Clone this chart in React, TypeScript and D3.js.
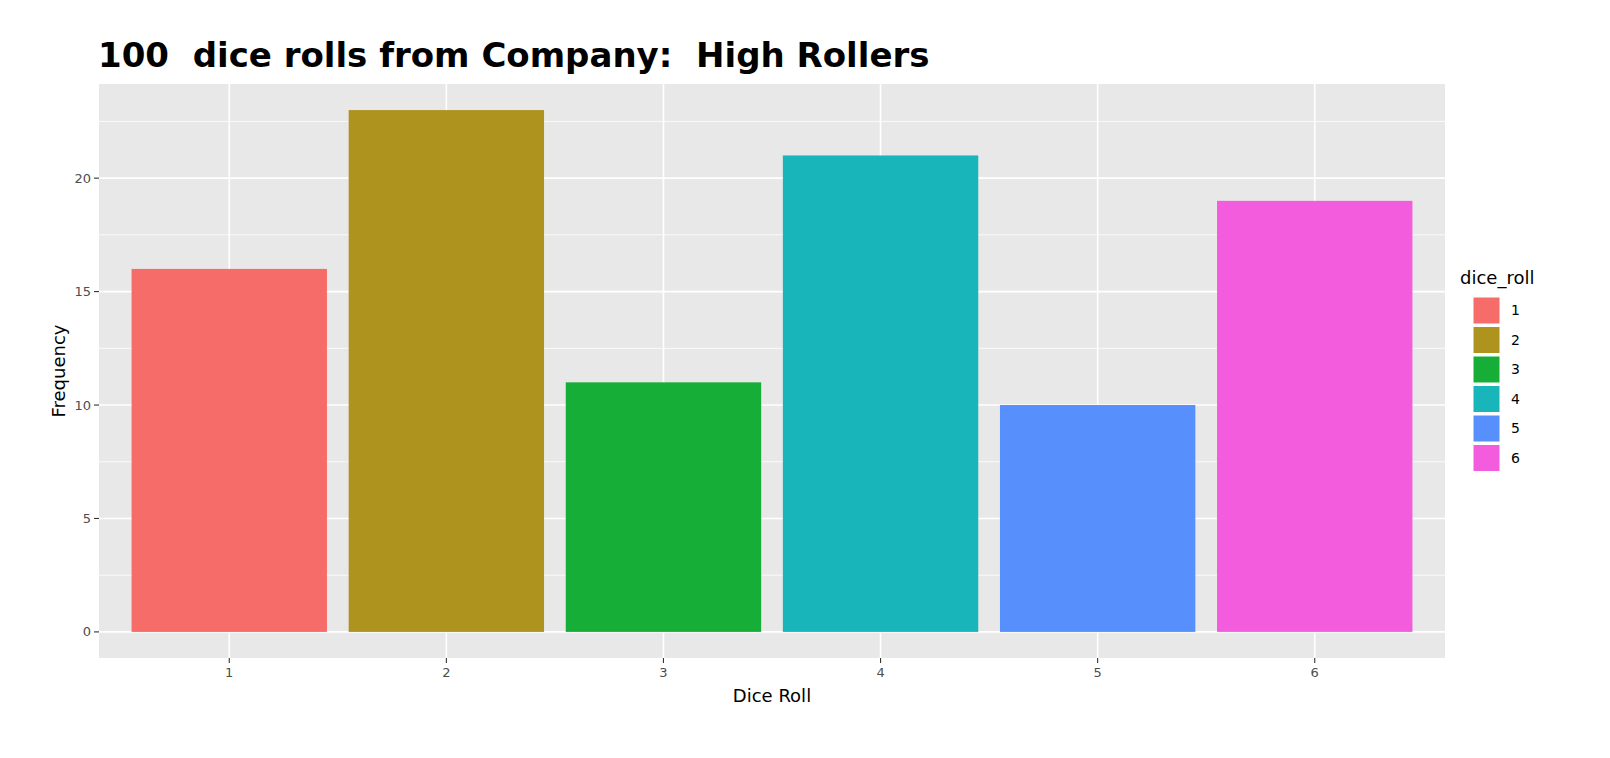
import React from "react";
import * as d3 from "d3";

const categories = ["1", "2", "3", "4", "5", "6"];
const frequencies = [16, 23, 11, 21, 10, 19];
const colors = ["#F56C69", "#AE931F", "#16AE36", "#18B5BA", "#5790FC", "#F35CDD"];
const yTicks = [0, 5, 10, 15, 20];
const yMinorTicks = [2.5, 7.5, 12.5, 17.5, 22.5];
const title = "100  dice rolls from Company:  High Rollers";
const xTitle = "Dice Roll";
const yTitle = "Frequency";
const legendTitle = "dice_roll";

const W = 1610;
const H = 758;
const panel = { left: 99, right: 1445, top: 84, bottom: 658 };

export default function App() {
  const maxV = d3.max(frequencies) as number;
  const y = d3
    .scaleLinear()
    .domain([-maxV * 0.05, maxV * 1.05])
    .range([panel.bottom, panel.top]);
  const x = d3
    .scaleLinear()
    .domain([0.4, categories.length + 0.6])
    .range([panel.left, panel.right]);
  const bw = x(1.45) - x(0.55);
  const font = "'DejaVu Sans', Verdana, sans-serif";

  return (
    <svg
      width={W}
      height={H}
      style={{ position: "absolute", left: 0, top: 0, background: "#fff" }}
    >
      <text
        x={panel.left - 1}
        y={67}
        fontFamily={font}
        fontWeight="bold"
        fontSize={34}
        fill="#000"
        style={{ whiteSpace: "pre" }}
      >
        {title}
      </text>
      <rect
        x={panel.left}
        y={panel.top}
        width={panel.right - panel.left}
        height={panel.bottom - panel.top}
        fill="#E8E8E8"
      />
      {yMinorTicks.map((t) => (
        <line
          key={"ym" + t}
          x1={panel.left}
          x2={panel.right}
          y1={y(t)}
          y2={y(t)}
          stroke="#fff"
          strokeWidth={0.8}
        />
      ))}
      {yTicks.map((t) => (
        <line
          key={"y" + t}
          x1={panel.left}
          x2={panel.right}
          y1={y(t)}
          y2={y(t)}
          stroke="#fff"
          strokeWidth={1.6}
        />
      ))}
      {categories.map((c, i) => (
        <line
          key={"x" + c}
          x1={x(i + 1)}
          x2={x(i + 1)}
          y1={panel.top}
          y2={panel.bottom}
          stroke="#fff"
          strokeWidth={1.6}
        />
      ))}
      {frequencies.map((v, i) => (
        <rect
          key={"b" + i}
          x={x(i + 1) - bw / 2}
          y={y(v)}
          width={bw}
          height={y(0) - y(v)}
          fill={colors[i]}
        />
      ))}
      {yTicks.map((t) => (
        <g key={"yt" + t}>
          <line
            x1={panel.left - 5}
            x2={panel.left}
            y1={y(t)}
            y2={y(t)}
            stroke="#333"
            strokeWidth={1.1}
          />
          <text
            x={panel.left - 8}
            y={y(t)}
            dy="0.35em"
            textAnchor="end"
            fontFamily={font}
            fontSize={13}
            fill="#4D4D4D"
          >
            {t}
          </text>
        </g>
      ))}
      {categories.map((c, i) => (
        <g key={"xt" + c}>
          <line
            x1={x(i + 1)}
            x2={x(i + 1)}
            y1={panel.bottom}
            y2={panel.bottom + 5}
            stroke="#333"
            strokeWidth={1.1}
          />
          <text
            x={x(i + 1)}
            y={panel.bottom + 19}
            textAnchor="middle"
            fontFamily={font}
            fontSize={13}
            fill="#4D4D4D"
          >
            {c}
          </text>
        </g>
      ))}
      <text
        x={(panel.left + panel.right) / 2}
        y={702}
        textAnchor="middle"
        fontFamily={font}
        fontSize={18}
        fill="#000"
      >
        {xTitle}
      </text>
      <text
        transform={`translate(${65}, ${(panel.top + panel.bottom) / 2}) rotate(-90)`}
        textAnchor="middle"
        fontFamily={font}
        fontSize={18}
        fill="#000"
      >
        {yTitle}
      </text>
      <text
        x={1460}
        y={284}
        fontFamily={font}
        fontSize={18}
        fill="#000"
      >
        {legendTitle}
      </text>
      {categories.map((c, i) => (
        <g key={"lg" + c}>
          <rect
            x={1473}
            y={297 + i * 29.5}
            width={27}
            height={27}
            fill={colors[i]}
            stroke="#fff"
            strokeWidth={1}
          />
          <text
            x={1511}
            y={297 + i * 29.5 + 13.5}
            dy="0.35em"
            fontFamily={font}
            fontSize={14}
            fill="#000"
          >
            {c}
          </text>
        </g>
      ))}
    </svg>
  );
}
